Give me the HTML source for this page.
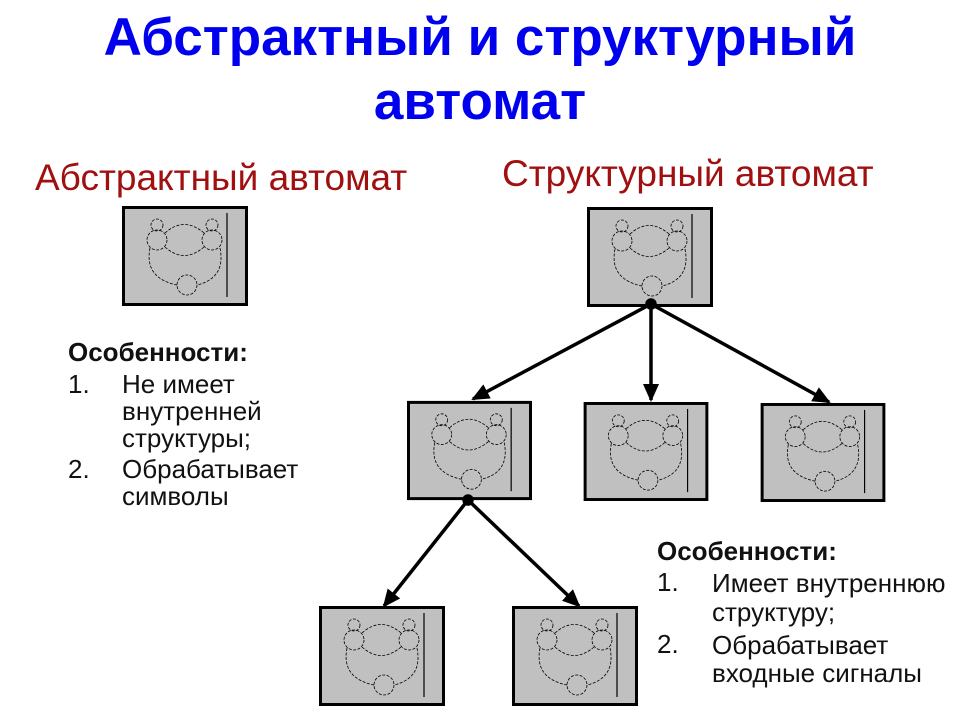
<!DOCTYPE html>
<html><head><meta charset="utf-8"><style>
body{margin:0;width:960px;height:720px;background:#fff;position:relative;overflow:hidden;font-family:"Liberation Sans",sans-serif}
.t{position:absolute;white-space:nowrap;font-size:26px;line-height:27px;color:#111}
.h{position:absolute;white-space:nowrap}
</style></head><body>
<svg width="960" height="720" style="position:absolute;left:0;top:0">
<defs>
<symbol id="b" viewBox="0 0 126 100">
<rect x="1.5" y="1.5" width="123" height="97" fill="#c0c0c0" stroke="#000" stroke-width="3"/>
<g fill="none" stroke="#000" stroke-width="0.8" stroke-dasharray="3,1.5">
<circle cx="35" cy="34" r="10"/><circle cx="90" cy="34" r="10"/><circle cx="65" cy="79" r="10"/>
<circle cx="35" cy="19" r="6"/><circle cx="90" cy="19" r="6"/>
<path d="M43 27 Q62 10 82 27"/><path d="M43 41 Q62 58 82 41"/>
<path d="M28 42 Q22 72 55 79"/><path d="M98 42 Q104 72 75 79"/>
</g>
<line x1="105" y1="7" x2="105" y2="91" stroke="#000" stroke-width="1.2"/>
</symbol>
<marker id="a" markerWidth="18" markerHeight="16" refX="16" refY="8" orient="auto" markerUnits="userSpaceOnUse" viewBox="0 0 18 16"><path d="M0 0L18 8L0 16z"/></marker>
</defs>
<use href="#b" x="122" y="206" width="126" height="100"/>
<use href="#b" x="587" y="207" width="126" height="100"/>
<use href="#b" x="407" y="400" width="125" height="101"/>
<use href="#b" x="583" y="402" width="126" height="99"/>
<use href="#b" x="760" y="403" width="126" height="99"/>
<use href="#b" x="319" y="606" width="126" height="100"/>
<use href="#b" x="512" y="606" width="126" height="100"/>
<g stroke="#000" stroke-width="3.5" fill="#000">
<line x1="651" y1="304" x2="473" y2="399" marker-end="url(#a)"/>
<line x1="651" y1="304" x2="651" y2="400" marker-end="url(#a)"/>
<line x1="651" y1="304" x2="829" y2="402" marker-end="url(#a)"/>
<line x1="468" y1="500" x2="384" y2="606" marker-end="url(#a)"/>
<line x1="468" y1="500" x2="579" y2="606" marker-end="url(#a)"/>
<circle cx="651" cy="304" r="4"/><circle cx="468" cy="500" r="4"/>
</g>
</svg>
<div class="h" style="left:0;width:960px;text-align:center;top:6px;font-size:53px;font-weight:bold;color:#0000ee;line-height:64px">Абстрактный и структурный<br>автомат</div>
<div class="h" style="left:35px;top:157px;font-size:37px;color:#a01010">Абстрактный автомат</div>
<div class="h" style="left:502px;top:153px;font-size:37px;color:#a01010">Структурный автомат</div>

<div class="t" style="left:68px;top:339px"><b>Особенности:</b></div>
<div class="t" style="left:68px;top:371px">1.</div>
<div class="t" style="left:122px;top:371px">Не имеет<br>внутренней<br>структуры;</div>
<div class="t" style="left:68px;top:456px">2.</div>
<div class="t" style="left:122px;top:456px">Обрабатывает<br>символы</div>

<div class="t" style="left:657px;top:538px"><b>Особенности:</b></div>
<div class="t" style="left:657px;top:569px">1.</div>
<div class="t" style="left:712px;top:569px;line-height:29px">Имеет внутреннюю<br>структуру;</div>
<div class="t" style="left:657px;top:631px">2.</div>
<div class="t" style="left:712px;top:631px;line-height:28px">Обрабатывает<br>входные сигналы</div>
</body></html>
